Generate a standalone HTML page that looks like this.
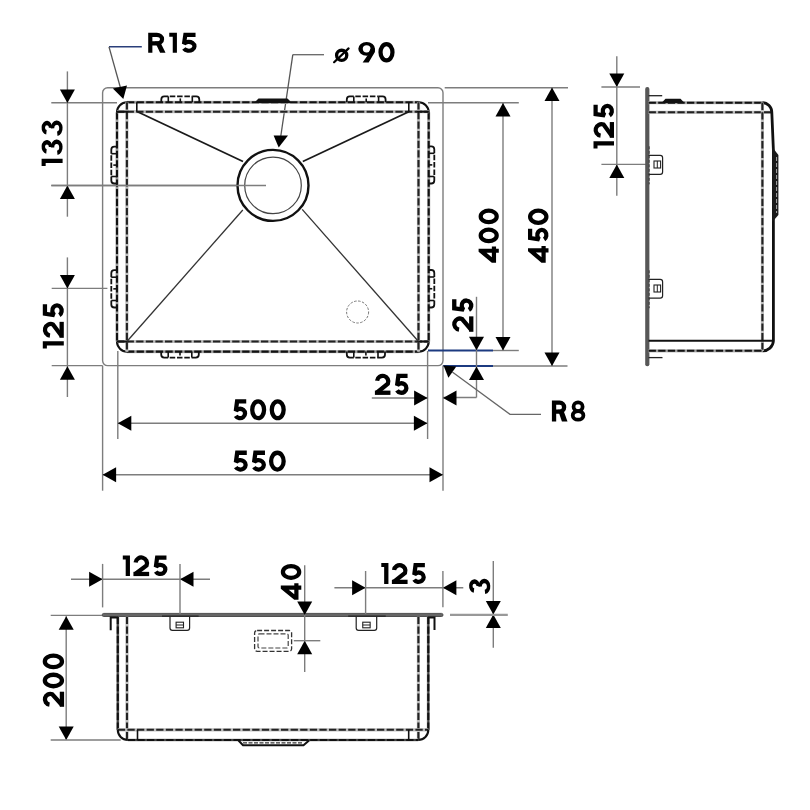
<!DOCTYPE html>
<html><head><meta charset="utf-8"><style>
html,body{margin:0;padding:0;background:#fff;width:810px;height:810px;overflow:hidden}
svg{display:block}
text{font-family:"Liberation Sans",sans-serif;font-weight:bold;fill:#000}
.t{opacity:0.999}
</style></head><body>
<svg width="810" height="810" viewBox="0 0 810 810">
<rect width="810" height="810" fill="#fff"/>
<rect x="102.6" y="87.7" width="340.4" height="277.9" rx="5" stroke="#7d7d7d" stroke-width="1.4" fill="none"/>
<line x1="51.3" y1="102.7" x2="117" y2="102.7" stroke="#7d7d7d" stroke-width="1.4" fill="none" />
<line x1="428" y1="102.7" x2="518.8" y2="102.7" stroke="#7d7d7d" stroke-width="1.4" fill="none" />
<line x1="51.3" y1="185.5" x2="266" y2="185.5" stroke="#7d7d7d" stroke-width="1.4" fill="none" />
<line x1="51.7" y1="288.4" x2="107.4" y2="288.4" stroke="#7d7d7d" stroke-width="1.4" fill="none" />
<line x1="51.7" y1="365.6" x2="102.6" y2="365.6" stroke="#7d7d7d" stroke-width="1.4" fill="none" />
<line x1="444.7" y1="87.7" x2="568" y2="87.7" stroke="#7d7d7d" stroke-width="1.4" fill="none" />
<line x1="493" y1="350.5" x2="518.8" y2="350.5" stroke="#7d7d7d" stroke-width="1.4" fill="none" />
<line x1="493" y1="366" x2="567.5" y2="366" stroke="#7d7d7d" stroke-width="1.4" fill="none" />
<line x1="428" y1="350.5" x2="493" y2="350.5" stroke="#1c3a80" stroke-width="2" />
<line x1="443" y1="366" x2="493" y2="366" stroke="#1c3a80" stroke-width="2" />
<line x1="117.8" y1="351" x2="117.8" y2="439" stroke="#7d7d7d" stroke-width="1.4" fill="none" />
<line x1="102.6" y1="365.6" x2="102.6" y2="490.7" stroke="#7d7d7d" stroke-width="1.4" fill="none" />
<line x1="427.6" y1="351" x2="427.6" y2="439" stroke="#7d7d7d" stroke-width="1.4" fill="none" />
<line x1="443" y1="365.6" x2="443" y2="490.7" stroke="#7d7d7d" stroke-width="1.4" fill="none" />
<line x1="67.4" y1="71.4" x2="67.4" y2="216.7" stroke="#7d7d7d" stroke-width="1.4" fill="none" />
<polygon points="67.4,103 59.900000000000006,89.5 74.9,89.5" fill="#000"/>
<polygon points="67.4,185.6 59.900000000000006,199.1 74.9,199.1" fill="#000"/>
<line x1="67.4" y1="257.4" x2="67.4" y2="397" stroke="#7d7d7d" stroke-width="1.4" fill="none" />
<polygon points="67.4,288.5 59.900000000000006,275.0 74.9,275.0" fill="#000"/>
<polygon points="67.4,366.3 59.900000000000006,379.8 74.9,379.8" fill="#000"/>
<line x1="117.8" y1="423.2" x2="427.4" y2="423.2" stroke="#7d7d7d" stroke-width="1.4" fill="none" />
<polygon points="117.8,423.2 131.3,415.7 131.3,430.7" fill="#000"/>
<polygon points="427.4,423.2 413.9,415.7 413.9,430.7" fill="#000"/>
<line x1="102.6" y1="474.7" x2="443" y2="474.7" stroke="#7d7d7d" stroke-width="1.4" fill="none" />
<polygon points="102.6,474.7 116.1,467.2 116.1,482.2" fill="#000"/>
<polygon points="443,474.7 429.5,467.2 429.5,482.2" fill="#000"/>
<line x1="503" y1="103" x2="503" y2="350.5" stroke="#7d7d7d" stroke-width="1.4" fill="none" />
<polygon points="503,103 495.5,116.5 510.5,116.5" fill="#000"/>
<polygon points="503,350.5 495.5,337.0 510.5,337.0" fill="#000"/>
<line x1="552" y1="87.5" x2="552" y2="366" stroke="#7d7d7d" stroke-width="1.4" fill="none" />
<polygon points="552,87.5 544.5,101.0 559.5,101.0" fill="#000"/>
<polygon points="552,366 544.5,352.5 559.5,352.5" fill="#000"/>
<line x1="476.5" y1="296.8" x2="476.5" y2="397.5" stroke="#7d7d7d" stroke-width="1.4" fill="none" />
<line x1="476.5" y1="397.5" x2="443" y2="397.5" stroke="#7d7d7d" stroke-width="1.4" fill="none" />
<polygon points="476.5,350.3 469.0,336.8 484.0,336.8" fill="#000"/>
<polygon points="476.5,366.5 469.0,380.0 484.0,380.0" fill="#000"/>
<line x1="371.8" y1="398" x2="428" y2="398" stroke="#7d7d7d" stroke-width="1.4" fill="none" />
<polygon points="427.6,398 414.1,390.5 414.1,405.5" fill="#000"/>
<polygon points="443,398 456.5,390.5 456.5,405.5" fill="#000"/>
<polygon points="443.5,365.4 456.3,366.4 448.4,377.8" fill="#000"/>
<polyline points="452.3,372 510,414.3 541,414.3" stroke="#666" stroke-width="1.3" fill="none"/>
<line x1="109" y1="46.8" x2="141.8" y2="46.8" stroke="#2a3f7a" stroke-width="1.5" />
<line x1="109" y1="46.8" x2="120.5" y2="88" stroke="#555" stroke-width="1.3" />
<polygon points="123.3,99 112.8,88.5 127,85.4" fill="#000"/>
<line x1="292.8" y1="54.7" x2="324" y2="54.7" stroke="#666" stroke-width="1.3" />
<line x1="292.8" y1="54.7" x2="280.8" y2="136" stroke="#555" stroke-width="1.3" />
<polygon points="278.7,147.4 273.6,135.4 288,135.4" fill="#000"/>
<line x1="127.0" y1="102.3" x2="418.7" y2="102.3" stroke="#c4c4c4" stroke-width="3.2"/>
<line x1="127.0" y1="102.3" x2="418.7" y2="102.3" stroke="#9a9a9a" stroke-width="2.1"/>
<line x1="127.0" y1="102.3" x2="418.7" y2="102.3" stroke="#111" stroke-width="2.1" stroke-dasharray="7.3 2.3" stroke-dashoffset="0"/>
<line x1="127.0" y1="351.6" x2="418.7" y2="351.6" stroke="#c4c4c4" stroke-width="3.2"/>
<line x1="127.0" y1="351.6" x2="418.7" y2="351.6" stroke="#9a9a9a" stroke-width="2.1"/>
<line x1="127.0" y1="351.6" x2="418.7" y2="351.6" stroke="#111" stroke-width="2.1" stroke-dasharray="7.3 2.3" stroke-dashoffset="0"/>
<line x1="117.0" y1="112.3" x2="117.0" y2="341.6" stroke="#c4c4c4" stroke-width="3.2"/>
<line x1="117.0" y1="112.3" x2="117.0" y2="341.6" stroke="#9a9a9a" stroke-width="2.1"/>
<line x1="117.0" y1="112.3" x2="117.0" y2="341.6" stroke="#111" stroke-width="2.1" stroke-dasharray="7.3 2.3" stroke-dashoffset="0"/>
<line x1="428.7" y1="112.3" x2="428.7" y2="341.6" stroke="#c4c4c4" stroke-width="3.2"/>
<line x1="428.7" y1="112.3" x2="428.7" y2="341.6" stroke="#9a9a9a" stroke-width="2.1"/>
<line x1="428.7" y1="112.3" x2="428.7" y2="341.6" stroke="#111" stroke-width="2.1" stroke-dasharray="7.3 2.3" stroke-dashoffset="0"/>
<path d="M117.0,112.3 A10,10 0 0 1 127.0,102.3 M418.7,102.3 A10,10 0 0 1 428.7,112.3 M428.7,341.6 A10,10 0 0 1 418.7,351.6 M127.0,351.6 A10,10 0 0 1 117.0,341.6" stroke="#111" stroke-width="2.1" fill="none"/>
<line x1="117.0" y1="111.7" x2="428.7" y2="111.7" stroke="#c4c4c4" stroke-width="3.2"/>
<line x1="117.0" y1="111.7" x2="428.7" y2="111.7" stroke="#bbb" stroke-width="2.1"/>
<line x1="117.0" y1="111.7" x2="428.7" y2="111.7" stroke="#222" stroke-width="2.1" stroke-dasharray="7.3 2.3" stroke-dashoffset="0"/>
<line x1="117.0" y1="341.5" x2="428.7" y2="341.5" stroke="#c4c4c4" stroke-width="3.2"/>
<line x1="117.0" y1="341.5" x2="428.7" y2="341.5" stroke="#bbb" stroke-width="2.1"/>
<line x1="117.0" y1="341.5" x2="428.7" y2="341.5" stroke="#222" stroke-width="2.1" stroke-dasharray="7.3 2.3" stroke-dashoffset="0"/>
<line x1="126.9" y1="102.3" x2="126.9" y2="351.6" stroke="#c4c4c4" stroke-width="3.2"/>
<line x1="126.9" y1="102.3" x2="126.9" y2="351.6" stroke="#bbb" stroke-width="2.1"/>
<line x1="126.9" y1="102.3" x2="126.9" y2="351.6" stroke="#222" stroke-width="2.1" stroke-dasharray="7.3 2.3" stroke-dashoffset="0"/>
<line x1="418.5" y1="102.3" x2="418.5" y2="351.6" stroke="#c4c4c4" stroke-width="3.2"/>
<line x1="418.5" y1="102.3" x2="418.5" y2="351.6" stroke="#bbb" stroke-width="2.1"/>
<line x1="418.5" y1="102.3" x2="418.5" y2="351.6" stroke="#222" stroke-width="2.1" stroke-dasharray="7.3 2.3" stroke-dashoffset="0"/>
<line x1="117.0" y1="111.7" x2="128.9" y2="111.7" stroke="#111" stroke-width="2" />
<line x1="416.5" y1="111.7" x2="428.7" y2="111.7" stroke="#111" stroke-width="2" />
<line x1="117.0" y1="341.5" x2="128.9" y2="341.5" stroke="#111" stroke-width="2" />
<line x1="416.5" y1="341.5" x2="428.7" y2="341.5" stroke="#111" stroke-width="2" />
<line x1="136.8" y1="102.3" x2="136.8" y2="111.7" stroke="#111" stroke-width="1.6" />
<line x1="408.8" y1="102.3" x2="408.8" y2="111.7" stroke="#111" stroke-width="1.6" />
<line x1="137.5" y1="111.7" x2="243" y2="161.5" stroke="#1a1a1a" stroke-width="1.8" />
<line x1="408.8" y1="111.7" x2="302.8" y2="161.5" stroke="#1a1a1a" stroke-width="1.8" />
<line x1="126.9" y1="341.5" x2="242.8" y2="210" stroke="#333" stroke-width="1.3" />
<line x1="418.5" y1="341.5" x2="302.2" y2="209.4" stroke="#333" stroke-width="1.3" />
<circle cx="273" cy="185.4" r="35.5" stroke="#111" stroke-width="2.4" fill="#fff"/>
<circle cx="273" cy="185.4" r="28.3" stroke="#444" stroke-width="1.2" fill="none"/>
<line x1="51.3" y1="185.5" x2="266" y2="185.5" stroke="#7d7d7d" stroke-width="1.4" fill="none" />
<circle cx="357.6" cy="312" r="11" stroke="#777" stroke-width="1" fill="none" stroke-dasharray="2.5 1.5"/>
<path d="M161.3,102.3 V99.4 Q161.3,96.4 164.3,96.4 H168.3" stroke="#111" stroke-width="1.8" fill="none"/>
<path d="M199.3,102.3 V99.4 Q199.3,96.4 196.3,96.4 H192.3" stroke="#111" stroke-width="1.8" fill="none"/>
<line x1="168.3" y1="96.4" x2="192.3" y2="96.4" stroke="#111" stroke-width="1.8" stroke-dasharray="5.5 1.8" stroke-dashoffset="-1.5" />
<line x1="168.3" y1="96.4" x2="168.3" y2="102.3" stroke="#111" stroke-width="1.6" />
<line x1="192.3" y1="96.4" x2="192.3" y2="102.3" stroke="#111" stroke-width="1.6" />
<line x1="180.3" y1="98.4" x2="180.3" y2="102.3" stroke="#111" stroke-width="1.6" />
<path d="M346.8,102.3 V99.4 Q346.8,96.4 349.8,96.4 H353.8" stroke="#111" stroke-width="1.8" fill="none"/>
<path d="M385.6,102.3 V99.4 Q385.6,96.4 382.6,96.4 H378.6" stroke="#111" stroke-width="1.8" fill="none"/>
<line x1="353.8" y1="96.4" x2="378.6" y2="96.4" stroke="#111" stroke-width="1.8" stroke-dasharray="5.5 1.8" stroke-dashoffset="-1.5" />
<line x1="353.8" y1="96.4" x2="353.8" y2="102.3" stroke="#111" stroke-width="1.6" />
<line x1="378.6" y1="96.4" x2="378.6" y2="102.3" stroke="#111" stroke-width="1.6" />
<line x1="366.20000000000005" y1="98.4" x2="366.20000000000005" y2="102.3" stroke="#111" stroke-width="1.6" />
<path d="M161.2,351.6 V354.6 Q161.2,357.6 164.2,357.6 H168.2" stroke="#111" stroke-width="1.8" fill="none"/>
<path d="M198.8,351.6 V354.6 Q198.8,357.6 195.8,357.6 H191.8" stroke="#111" stroke-width="1.8" fill="none"/>
<line x1="168.2" y1="357.6" x2="191.8" y2="357.6" stroke="#111" stroke-width="1.8" stroke-dasharray="5.5 1.8" stroke-dashoffset="-1.5" />
<line x1="168.2" y1="357.6" x2="168.2" y2="351.6" stroke="#111" stroke-width="1.6" />
<line x1="191.8" y1="357.6" x2="191.8" y2="351.6" stroke="#111" stroke-width="1.6" />
<line x1="180.0" y1="355.6" x2="180.0" y2="351.6" stroke="#111" stroke-width="1.6" />
<path d="M346.8,351.6 V354.6 Q346.8,357.6 349.8,357.6 H353.8" stroke="#111" stroke-width="1.8" fill="none"/>
<path d="M385,351.6 V354.6 Q385,357.6 382,357.6 H378" stroke="#111" stroke-width="1.8" fill="none"/>
<line x1="353.8" y1="357.6" x2="378" y2="357.6" stroke="#111" stroke-width="1.8" stroke-dasharray="5.5 1.8" stroke-dashoffset="-1.5" />
<line x1="353.8" y1="357.6" x2="353.8" y2="351.6" stroke="#111" stroke-width="1.6" />
<line x1="378" y1="357.6" x2="378" y2="351.6" stroke="#111" stroke-width="1.6" />
<line x1="365.9" y1="355.6" x2="365.9" y2="351.6" stroke="#111" stroke-width="1.6" />
<path d="M117.0,146.7 H114.3 Q111.3,146.7 111.3,149.7 V153.7" stroke="#111" stroke-width="1.8" fill="none"/>
<path d="M117.0,183.5 H114.3 Q111.3,183.5 111.3,180.5 V176.5" stroke="#111" stroke-width="1.8" fill="none"/>
<line x1="111.3" y1="153.7" x2="111.3" y2="176.5" stroke="#111" stroke-width="1.8" stroke-dasharray="5.5 1.8" stroke-dashoffset="-1.5" />
<line x1="111.3" y1="153.7" x2="117.0" y2="153.7" stroke="#111" stroke-width="1.6" />
<line x1="111.3" y1="176.5" x2="117.0" y2="176.5" stroke="#111" stroke-width="1.6" />
<line x1="113.3" y1="165.1" x2="117.0" y2="165.1" stroke="#111" stroke-width="1.6" />
<path d="M117.0,270.2 H114.3 Q111.3,270.2 111.3,273.2 V277.2" stroke="#111" stroke-width="1.8" fill="none"/>
<path d="M117.0,307.5 H114.3 Q111.3,307.5 111.3,304.5 V300.5" stroke="#111" stroke-width="1.8" fill="none"/>
<line x1="111.3" y1="277.2" x2="111.3" y2="300.5" stroke="#111" stroke-width="1.8" stroke-dasharray="5.5 1.8" stroke-dashoffset="-1.5" />
<line x1="111.3" y1="277.2" x2="117.0" y2="277.2" stroke="#111" stroke-width="1.6" />
<line x1="111.3" y1="300.5" x2="117.0" y2="300.5" stroke="#111" stroke-width="1.6" />
<line x1="113.3" y1="288.85" x2="117.0" y2="288.85" stroke="#111" stroke-width="1.6" />
<path d="M428.7,146.3 H431.3 Q434.3,146.3 434.3,149.3 V153.3" stroke="#111" stroke-width="1.8" fill="none"/>
<path d="M428.7,183.5 H431.3 Q434.3,183.5 434.3,180.5 V176.5" stroke="#111" stroke-width="1.8" fill="none"/>
<line x1="434.3" y1="153.3" x2="434.3" y2="176.5" stroke="#111" stroke-width="1.8" stroke-dasharray="5.5 1.8" stroke-dashoffset="-1.5" />
<line x1="434.3" y1="153.3" x2="428.7" y2="153.3" stroke="#111" stroke-width="1.6" />
<line x1="434.3" y1="176.5" x2="428.7" y2="176.5" stroke="#111" stroke-width="1.6" />
<line x1="432.3" y1="164.9" x2="428.7" y2="164.9" stroke="#111" stroke-width="1.6" />
<path d="M428.7,270 H431.3 Q434.3,270 434.3,273 V277" stroke="#111" stroke-width="1.8" fill="none"/>
<path d="M428.7,307.5 H431.3 Q434.3,307.5 434.3,304.5 V300.5" stroke="#111" stroke-width="1.8" fill="none"/>
<line x1="434.3" y1="277" x2="434.3" y2="300.5" stroke="#111" stroke-width="1.8" stroke-dasharray="5.5 1.8" stroke-dashoffset="-1.5" />
<line x1="434.3" y1="277" x2="428.7" y2="277" stroke="#111" stroke-width="1.6" />
<line x1="434.3" y1="300.5" x2="428.7" y2="300.5" stroke="#111" stroke-width="1.6" />
<line x1="432.3" y1="288.75" x2="428.7" y2="288.75" stroke="#111" stroke-width="1.6" />
<polygon points="254,103 258.5,98.6 287.5,98.6 292,103" fill="#111"/>
<line x1="616.8" y1="56.2" x2="616.8" y2="195.7" stroke="#7d7d7d" stroke-width="1.4" fill="none" />
<polygon points="616.8,87 609.3,73.5 624.3,73.5" fill="#000"/>
<polygon points="616.8,164.4 609.3,177.9 624.3,177.9" fill="#000"/>
<line x1="601.4" y1="87" x2="640" y2="87" stroke="#7d7d7d" stroke-width="1.4" fill="none" />
<line x1="601.4" y1="164.4" x2="646.8" y2="164.4" stroke="#7d7d7d" stroke-width="1.4" fill="none" />
<rect x="645.2" y="86.9" width="4.2" height="279.3" rx="2" fill="#575757"/>
<line x1="648.6" y1="102.7" x2="762.4" y2="102.7" stroke="#c4c4c4" stroke-width="3.2"/>
<line x1="648.6" y1="102.7" x2="762.4" y2="102.7" stroke="#9a9a9a" stroke-width="2.1"/>
<line x1="648.6" y1="102.7" x2="762.4" y2="102.7" stroke="#111" stroke-width="2.1" stroke-dasharray="7.3 2.3" stroke-dashoffset="0"/>
<line x1="648.6" y1="112.3" x2="772.2" y2="112.3" stroke="#c4c4c4" stroke-width="3.2"/>
<line x1="648.6" y1="112.3" x2="772.2" y2="112.3" stroke="#bbb" stroke-width="2.1"/>
<line x1="648.6" y1="112.3" x2="772.2" y2="112.3" stroke="#222" stroke-width="2.1" stroke-dasharray="7.3 2.3" stroke-dashoffset="0"/>
<path d="M762.4,102.7 A9.6,9.6 0 0 1 771.8,112.3 L773.4,150 L773.4,341 A10.5,10.5 0 0 1 762.4,350.8" stroke="#111" stroke-width="2.8" fill="none"/>
<polygon points="772.2,147 778.4,155 778.4,215 772.2,222" fill="#1a1a1a"/>
<line x1="776.6" y1="157" x2="776.6" y2="213" stroke="#bbb" stroke-width="0.9" stroke-dasharray="4 2" />
<line x1="762.4" y1="102.7" x2="762.4" y2="350.8" stroke="#c4c4c4" stroke-width="3.2"/>
<line x1="762.4" y1="102.7" x2="762.4" y2="350.8" stroke="#bbb" stroke-width="2.1"/>
<line x1="762.4" y1="102.7" x2="762.4" y2="350.8" stroke="#222" stroke-width="2.1" stroke-dasharray="7.3 2.3" stroke-dashoffset="0"/>
<line x1="648.6" y1="340.8" x2="773" y2="340.8" stroke="#111" stroke-width="2" />
<line x1="648.6" y1="350.8" x2="762.4" y2="350.8" stroke="#c4c4c4" stroke-width="3.2"/>
<line x1="648.6" y1="350.8" x2="762.4" y2="350.8" stroke="#9a9a9a" stroke-width="2.1"/>
<line x1="648.6" y1="350.8" x2="762.4" y2="350.8" stroke="#111" stroke-width="2.1" stroke-dasharray="7.3 2.3" stroke-dashoffset="0"/>
<polygon points="661.5,103 665.5,98.8 680.5,98.8 684.5,103" fill="#111"/>
<line x1="648.6" y1="95.7" x2="662.2" y2="95.7" stroke="#222" stroke-width="1.3" />
<line x1="648.6" y1="357.6" x2="662.5" y2="357.6" stroke="#222" stroke-width="1.3" />
<path d="M648.6,155.3 H660.2 A2.4,2.4 0 0 1 662.6,157.70000000000002 V171.9 A2.4,2.4 0 0 1 660.2,174.3 H648.6" stroke="#222" stroke-width="1.2" fill="none"/>
<rect x="654" y="161.0" width="6.6" height="7" stroke="#222" stroke-width="1.1" fill="none"/>
<line x1="657.3" y1="161.0" x2="657.3" y2="168.0" stroke="#222" stroke-width="1" />
<line x1="649.2" y1="146.3" x2="649.2" y2="184.3" stroke="#333" stroke-width="0.9" stroke-dasharray="3 1.5" />
<path d="M648.6,279.3 H660.2 A2.4,2.4 0 0 1 662.6,281.7 V295.8 A2.4,2.4 0 0 1 660.2,298.2 H648.6" stroke="#222" stroke-width="1.2" fill="none"/>
<rect x="654" y="285.0" width="6.6" height="7" stroke="#222" stroke-width="1.1" fill="none"/>
<line x1="657.3" y1="285.0" x2="657.3" y2="292.0" stroke="#222" stroke-width="1" />
<line x1="649.2" y1="270.3" x2="649.2" y2="308.2" stroke="#333" stroke-width="0.9" stroke-dasharray="3 1.5" />
<rect x="102.2" y="613.4" width="340.8" height="3.1" rx="1.5" fill="#666" stroke="#444" stroke-width="0.9"/>
<line x1="117.8" y1="616.8" x2="117.8" y2="729.8" stroke="#c4c4c4" stroke-width="3.2"/>
<line x1="117.8" y1="616.8" x2="117.8" y2="729.8" stroke="#444" stroke-width="2.1"/>
<line x1="117.8" y1="616.8" x2="117.8" y2="729.8" stroke="#111" stroke-width="2.1" stroke-dasharray="7.3 2.3" stroke-dashoffset="0"/>
<line x1="127.0" y1="616.8" x2="127.0" y2="740.0" stroke="#c4c4c4" stroke-width="3.2"/>
<line x1="127.0" y1="616.8" x2="127.0" y2="740.0" stroke="#bbb" stroke-width="2.1"/>
<line x1="127.0" y1="616.8" x2="127.0" y2="740.0" stroke="#222" stroke-width="2.1" stroke-dasharray="7.3 2.3" stroke-dashoffset="0"/>
<line x1="428.3" y1="616.8" x2="428.3" y2="729.8" stroke="#c4c4c4" stroke-width="3.2"/>
<line x1="428.3" y1="616.8" x2="428.3" y2="729.8" stroke="#444" stroke-width="2.1"/>
<line x1="428.3" y1="616.8" x2="428.3" y2="729.8" stroke="#111" stroke-width="2.1" stroke-dasharray="7.3 2.3" stroke-dashoffset="0"/>
<line x1="418.4" y1="616.8" x2="418.4" y2="740.0" stroke="#c4c4c4" stroke-width="3.2"/>
<line x1="418.4" y1="616.8" x2="418.4" y2="740.0" stroke="#bbb" stroke-width="2.1"/>
<line x1="418.4" y1="616.8" x2="418.4" y2="740.0" stroke="#222" stroke-width="2.1" stroke-dasharray="7.3 2.3" stroke-dashoffset="0"/>
<line x1="117.8" y1="729.8" x2="428.3" y2="729.8" stroke="#c4c4c4" stroke-width="3.2"/>
<line x1="117.8" y1="729.8" x2="428.3" y2="729.8" stroke="#bbb" stroke-width="2.1"/>
<line x1="117.8" y1="729.8" x2="428.3" y2="729.8" stroke="#222" stroke-width="2.1" stroke-dasharray="7.3 2.3" stroke-dashoffset="0"/>
<line x1="127.8" y1="740.0" x2="418.3" y2="740.0" stroke="#c4c4c4" stroke-width="3.2"/>
<line x1="127.8" y1="740.0" x2="418.3" y2="740.0" stroke="#444" stroke-width="2.1"/>
<line x1="127.8" y1="740.0" x2="418.3" y2="740.0" stroke="#111" stroke-width="2.1" stroke-dasharray="7.3 2.3" stroke-dashoffset="0"/>
<path d="M117.8,729.8 A10,10 0 0 0 127.8,740.0 M418.3,740.0 A10,10 0 0 0 428.3,729.8" stroke="#111" stroke-width="2.1" fill="none"/>
<line x1="137.5" y1="729.8" x2="137.5" y2="740.0" stroke="#111" stroke-width="1.6" />
<line x1="408.7" y1="729.8" x2="408.7" y2="740.0" stroke="#111" stroke-width="1.6" />
<path d="M238.5,740.5 L243,745.2 L303.5,745.2 L309,740.5" stroke="#111" stroke-width="2" fill="none"/>
<line x1="243" y1="742.8" x2="303.5" y2="742.8" stroke="#333" stroke-width="1.2" stroke-dasharray="4 1.5" />
<path d="M117.8,617.5 H110.7 V630.2" stroke="#111" stroke-width="2" fill="none"/>
<path d="M428.3,617.5 H434.5 V630" stroke="#111" stroke-width="2" fill="none"/>
<path d="M170,616.7 V628 A2.4,2.4 0 0 0 172.4,630.4 H187.2 A2.4,2.4 0 0 0 189.6,628 V616.7" stroke="#222" stroke-width="1.2" fill="none"/>
<rect x="176.10000000000002" y="622.2" width="7.4" height="5.6" stroke="#222" stroke-width="1.1" fill="none"/>
<line x1="176.10000000000002" y1="625" x2="183.5" y2="625" stroke="#222" stroke-width="1" />
<line x1="162" y1="616.2" x2="198.6" y2="616.2" stroke="#222" stroke-width="1.3" />
<path d="M356.2,616.7 V628 A2.4,2.4 0 0 0 358.59999999999997,630.4 H374.3 A2.4,2.4 0 0 0 376.7,628 V616.7" stroke="#222" stroke-width="1.2" fill="none"/>
<rect x="362.75" y="622.2" width="7.4" height="5.6" stroke="#222" stroke-width="1.1" fill="none"/>
<line x1="362.75" y1="625" x2="370.15" y2="625" stroke="#222" stroke-width="1" />
<line x1="348.2" y1="616.2" x2="385.7" y2="616.2" stroke="#222" stroke-width="1.3" />
<rect x="254.6" y="630.5" width="37" height="20.8" rx="2.5" stroke="#333" stroke-width="1.3" fill="none" stroke-dasharray="5 2"/>
<rect x="258" y="633.8" width="30.2" height="14.2" rx="1.5" stroke="#444" stroke-width="1.2" fill="none" stroke-dasharray="5 2"/>
<line x1="66.2" y1="616.2" x2="66.2" y2="739.9" stroke="#7d7d7d" stroke-width="1.4" fill="none" />
<polygon points="66.2,616.2 58.7,629.7 73.7,629.7" fill="#000"/>
<polygon points="66.2,739.9 58.7,726.4 73.7,726.4" fill="#000"/>
<line x1="50.7" y1="615.4" x2="102" y2="615.4" stroke="#7d7d7d" stroke-width="1.4" fill="none" />
<line x1="50.7" y1="740" x2="120.7" y2="740" stroke="#7d7d7d" stroke-width="1.4" fill="none" />
<line x1="71" y1="579.3" x2="210" y2="579.3" stroke="#7d7d7d" stroke-width="1.4" fill="none" />
<polygon points="102.6,579.3 89.1,571.8 89.1,586.8" fill="#000"/>
<polygon points="180,579.3 193.5,571.8 193.5,586.8" fill="#000"/>
<line x1="102.6" y1="563.9" x2="102.6" y2="607.4" stroke="#7d7d7d" stroke-width="1.4" fill="none" />
<line x1="180" y1="564" x2="180" y2="614" stroke="#7d7d7d" stroke-width="1.4" fill="none" />
<line x1="334.4" y1="587.8" x2="463.3" y2="587.8" stroke="#7d7d7d" stroke-width="1.4" fill="none" />
<polygon points="365.6,587.8 352.1,580.3 352.1,595.3" fill="#000"/>
<polygon points="442.9,587.8 456.4,580.3 456.4,595.3" fill="#000"/>
<line x1="365.6" y1="571" x2="365.6" y2="614" stroke="#7d7d7d" stroke-width="1.4" fill="none" />
<line x1="442.9" y1="571" x2="442.9" y2="607.3" stroke="#7d7d7d" stroke-width="1.4" fill="none" />
<line x1="304.7" y1="565.2" x2="304.7" y2="672" stroke="#7d7d7d" stroke-width="1.4" fill="none" />
<polygon points="304.7,615 297.2,601.5 312.2,601.5" fill="#000"/>
<polygon points="304.7,640.7 297.2,654.2 312.2,654.2" fill="#000"/>
<line x1="293.8" y1="640.7" x2="320.3" y2="640.7" stroke="#7d7d7d" stroke-width="1.4" fill="none" />
<line x1="493.3" y1="561" x2="493.3" y2="647.8" stroke="#7d7d7d" stroke-width="1.4" fill="none" />
<polygon points="493.3,614.6 485.8,601.1 500.8,601.1" fill="#000"/>
<polygon points="493.3,614.6 485.8,628.1 500.8,628.1" fill="#000"/>
<line x1="450" y1="614.9" x2="507.8" y2="614.9" stroke="#999" stroke-width="2.2" />
<g stroke-miterlimit="2">
<g transform="translate(148.20,32.80)"><path transform="translate(0.00,0)" d="M2.09,20.00 L2.09,2.09 L8.66,2.09 A5.19,4.24 0 0 1 8.66,10.57 L2.09,10.57" fill="none" stroke="#000" stroke-width="4.18"/><path transform="translate(0.00,0)" d="M6.58,8.69 L11.80,8.69 L17.32,20.00 L11.89,20.00 Z" fill="#000"/><path transform="translate(21.05,0)" d="M0,0 H7.67 V20.00 H3.50 V3.97 H0 Z" fill="#000"/><path transform="translate(32.45,0)" d="M14.89,2.09 L4.69,2.09 L3.31,11.16 A5.69,4.41 0 1 1 3.21,15.71" fill="none" stroke="#000" stroke-width="4.18"/></g>
<g transform="translate(333.20,47.50)"><path transform="translate(0.00,0)" d="M8.48,2.76 A5.08,5.04 0 1 1 8.48,12.84 A5.08,5.04 0 1 1 8.48,2.76 Z" fill="none" stroke="#000" stroke-width="3.31"/><path transform="translate(0.00,0)" d="M0.90,14.70 L15.40,0.90" fill="none" stroke="#000" stroke-width="2.2" stroke-linecap="round"/></g>
<g transform="translate(358.30,41.90)"><path transform="translate(0.00,0)" d="M8.35,0.00 A8.35,6.93 0 1 1 8.35,13.87 A8.35,6.93 0 1 1 8.35,0.00 Z M8.35,3.31 A3.88,3.62 0 1 0 8.35,10.55 A3.88,3.62 0 1 0 8.35,3.31 Z" fill="#000" fill-rule="evenodd"/><path transform="translate(0.00,0)" d="M16.69,6.93 L16.61,10.06 L10.35,20.70 L4.34,20.70 L9.18,13.57 L12.23,6.93 Z" fill="#000"/><path transform="translate(20.11,0)" d="M8.09,2.12 A5.97,8.23 0 1 1 8.09,18.58 A5.97,8.23 0 1 1 8.09,2.12 Z" fill="none" stroke="#000" stroke-width="4.25"/></g>
<g transform="matrix(0,-1,1,0,41.60,165.90)"><path transform="translate(0.00,0)" d="M0,0 H7.27 V21.00 H2.99 V4.07 H0 Z" fill="#000"/><path transform="translate(10.80,0)" d="M1.47,4.61 A6.86,5.36 0 1 1 8.02,10.71 L8.18,7.28 A2.36,1.93 0 1 0 5.92,5.09 Z" fill="#000"/><path transform="translate(10.80,0)" d="M7.52,9.24 A7.79,5.88 0 1 1 0.08,15.94 L4.53,15.46 A3.30,2.46 0 1 0 7.68,12.67 Z" fill="#000"/><path transform="translate(29.92,0)" d="M1.47,4.61 A6.86,5.36 0 1 1 8.02,10.71 L8.18,7.28 A2.36,1.93 0 1 0 5.92,5.09 Z" fill="#000"/><path transform="translate(29.92,0)" d="M7.52,9.24 A7.79,5.88 0 1 1 0.08,15.94 L4.53,15.46 A3.30,2.46 0 1 0 7.68,12.67 Z" fill="#000"/></g>
<g transform="matrix(0,-1,1,0,42.80,348.60)"><path transform="translate(0.00,0)" d="M0,0 H7.26 V21.00 H2.98 V4.07 H0 Z" fill="#000"/><path transform="translate(10.79,0)" d="M2.20,7.17 A5.84,5.84 0 1 1 13.40,10.17 L1.82,18.86" fill="none" stroke="#000" stroke-width="4.28"/><path transform="translate(10.79,0)" d="M0,16.72 H15.97 V21.00 H0 Z" fill="#000"/><path transform="translate(30.28,0)" d="M14.08,2.14 L4.57,2.14 L3.26,11.69 A5.23,4.68 0 1 1 3.17,16.52" fill="none" stroke="#000" stroke-width="4.28"/></g>
<g transform="matrix(0,-1,1,0,478.60,262.70)"><path transform="translate(0.00,0)" d="M14.05,0 V13.25 H16.15 V17.45 H14.05 V20.20 H9.85 V17.45 H0 V13.25 L10.90,0 Z M9.85,13.25 V7.88 L5.44,13.25 Z" fill="#000" fill-rule="evenodd"/><path transform="translate(19.46,0)" d="M7.83,2.10 A5.73,8.00 0 1 1 7.83,18.10 A5.73,8.00 0 1 1 7.83,2.10 Z" fill="none" stroke="#000" stroke-width="4.20"/><path transform="translate(38.43,0)" d="M7.83,2.10 A5.73,8.00 0 1 1 7.83,18.10 A5.73,8.00 0 1 1 7.83,2.10 Z" fill="none" stroke="#000" stroke-width="4.20"/></g>
<g transform="matrix(0,-1,1,0,528.00,262.70)"><path transform="translate(0.00,0)" d="M14.54,0 V13.47 H16.79 V17.69 H14.54 V20.50 H10.31 V17.69 H0 V13.47 L11.36,0 Z M10.31,13.47 V7.81 L5.53,13.47 Z" fill="#000" fill-rule="evenodd"/><path transform="translate(20.22,0)" d="M13.73,2.11 L4.48,2.11 L3.20,11.43 A5.07,4.55 0 1 1 3.11,16.11" fill="none" stroke="#000" stroke-width="4.23"/><path transform="translate(37.82,0)" d="M8.14,2.11 A6.03,8.14 0 1 1 8.14,18.39 A6.03,8.14 0 1 1 8.14,2.11 Z" fill="none" stroke="#000" stroke-width="4.23"/></g>
<g transform="matrix(0,-1,1,0,452.10,331.80)"><path transform="translate(0.00,0)" d="M2.21,6.95 A5.57,5.57 0 1 1 12.89,9.81 L1.83,19.14" fill="none" stroke="#000" stroke-width="4.31"/><path transform="translate(0.00,0)" d="M0,16.99 H15.45 V21.30 H0 Z" fill="#000"/><path transform="translate(18.86,0)" d="M13.62,2.16 L4.49,2.16 L3.22,11.85 A4.97,4.77 0 1 1 3.14,16.76" fill="none" stroke="#000" stroke-width="4.31"/></g>
<g transform="translate(374.90,373.70)"><path transform="translate(0.00,0)" d="M2.21,6.99 A5.62,5.62 0 1 1 12.98,9.88 L1.83,19.05" fill="none" stroke="#000" stroke-width="4.30"/><path transform="translate(0.00,0)" d="M0,16.90 H15.54 V21.20 H0 Z" fill="#000"/><path transform="translate(18.97,0)" d="M13.70,2.15 L4.50,2.15 L3.23,11.80 A5.02,4.74 0 1 1 3.14,16.68" fill="none" stroke="#000" stroke-width="4.30"/></g>
<g transform="translate(232.60,399.20)"><path transform="translate(0.00,0)" d="M13.63,2.15 L4.48,2.15 L3.22,11.75 A4.99,4.71 0 1 1 3.13,16.60" fill="none" stroke="#000" stroke-width="4.29"/><path transform="translate(17.47,0)" d="M8.08,2.15 A5.93,8.40 0 1 1 8.08,18.95 A5.93,8.40 0 1 1 8.08,2.15 Z" fill="none" stroke="#000" stroke-width="4.29"/><path transform="translate(37.04,0)" d="M8.08,2.15 A5.93,8.40 0 1 1 8.08,18.95 A5.93,8.40 0 1 1 8.08,2.15 Z" fill="none" stroke="#000" stroke-width="4.29"/></g>
<g transform="translate(232.60,450.60)"><path transform="translate(0.00,0)" d="M14.19,2.15 L4.60,2.15 L3.28,11.75 A5.28,4.71 0 1 1 3.18,16.60" fill="none" stroke="#000" stroke-width="4.29"/><path transform="translate(18.19,0)" d="M14.19,2.15 L4.60,2.15 L3.28,11.75 A5.28,4.71 0 1 1 3.18,16.60" fill="none" stroke="#000" stroke-width="4.29"/><path transform="translate(36.37,0)" d="M8.41,2.15 A6.27,8.40 0 1 1 8.41,18.95 A6.27,8.40 0 1 1 8.41,2.15 Z" fill="none" stroke="#000" stroke-width="4.29"/></g>
<g transform="translate(551.90,400.50)"><path transform="translate(0.00,0)" d="M2.15,21.10 L2.15,2.15 L7.81,2.15 A4.41,4.51 0 0 1 7.81,11.17 L2.15,11.17" fill="none" stroke="#000" stroke-width="4.29"/><path transform="translate(0.00,0)" d="M5.93,9.24 L11.30,9.24 L15.61,21.10 L10.03,21.10 Z" fill="#000"/><path transform="translate(18.97,0)" d="M7.21,1.89 A4.53,4.33 0 1 1 7.21,10.55 A4.53,4.33 0 1 1 7.21,1.89 Z" fill="none" stroke="#000" stroke-width="3.78"/><path transform="translate(18.97,0)" d="M7.21,10.55 A5.33,4.33 0 1 1 7.21,19.21 A5.33,4.33 0 1 1 7.21,10.55 Z" fill="none" stroke="#000" stroke-width="3.78"/></g>
<g transform="matrix(0,-1,1,0,593.50,148.50)"><path transform="translate(0.00,0)" d="M0,0 H7.18 V20.50 H2.95 V4.02 H0 Z" fill="#000"/><path transform="translate(10.66,0)" d="M2.17,7.09 A5.78,5.78 0 1 1 13.26,10.06 L1.80,18.39" fill="none" stroke="#000" stroke-width="4.23"/><path transform="translate(10.66,0)" d="M0,16.27 H15.79 V20.50 H0 Z" fill="#000"/><path transform="translate(29.94,0)" d="M13.93,2.11 L4.52,2.11 L3.23,11.43 A5.17,4.55 0 1 1 3.13,16.11" fill="none" stroke="#000" stroke-width="4.23"/></g>
<g transform="translate(122.80,555.40)"><path transform="translate(0.00,0)" d="M0,0 H7.15 V20.70 H2.90 V4.04 H0 Z" fill="#000"/><path transform="translate(10.62,0)" d="M2.18,7.06 A5.74,5.74 0 1 1 13.18,10.01 L1.81,18.58" fill="none" stroke="#000" stroke-width="4.25"/><path transform="translate(10.62,0)" d="M0,16.45 H15.72 V20.70 H0 Z" fill="#000"/><path transform="translate(29.81,0)" d="M13.86,2.13 L4.51,2.13 L3.23,11.53 A5.13,4.60 0 1 1 3.13,16.27" fill="none" stroke="#000" stroke-width="4.25"/></g>
<g transform="translate(381.30,563.00)"><path transform="translate(0.00,0)" d="M0,0 H7.13 V21.00 H2.85 V4.07 H0 Z" fill="#000"/><path transform="translate(10.59,0)" d="M2.20,7.05 A5.70,5.70 0 1 1 13.13,9.98 L1.82,18.86" fill="none" stroke="#000" stroke-width="4.28"/><path transform="translate(10.59,0)" d="M0,16.72 H15.69 V21.00 H0 Z" fill="#000"/><path transform="translate(29.74,0)" d="M13.83,2.14 L4.52,2.14 L3.24,11.69 A5.10,4.68 0 1 1 3.14,16.52" fill="none" stroke="#000" stroke-width="4.28"/></g>
<g transform="matrix(0,-1,1,0,280.80,599.80)"><path transform="translate(0.00,0)" d="M14.30,0 V13.47 H16.46 V17.69 H14.30 V20.50 H10.07 V17.69 H0 V13.47 L11.12,0 Z M10.07,13.47 V7.92 L5.49,13.47 Z" fill="#000" fill-rule="evenodd"/><path transform="translate(19.83,0)" d="M7.98,2.11 A5.87,8.14 0 1 1 7.98,18.39 A5.87,8.14 0 1 1 7.98,2.11 Z" fill="none" stroke="#000" stroke-width="4.23"/></g>
<g transform="matrix(0,-1,1,0,469.10,594.20)"><path transform="translate(0.00,0)" d="M1.46,4.65 A6.82,5.41 0 1 1 7.98,10.81 L8.13,7.37 A2.30,1.97 0 1 0 5.93,5.13 Z" fill="#000"/><path transform="translate(0.00,0)" d="M7.48,9.33 A7.75,5.94 0 1 1 0.08,16.09 L4.55,15.61 A3.23,2.50 0 1 0 7.64,12.77 Z" fill="#000"/></g>
<g transform="matrix(0,-1,1,0,42.70,706.80)"><path transform="translate(0.00,0)" d="M2.21,6.80 A5.38,5.38 0 1 1 12.54,9.56 L1.84,19.24" fill="none" stroke="#000" stroke-width="4.32"/><path transform="translate(0.00,0)" d="M0,17.08 H15.09 V21.40 H0 Z" fill="#000"/><path transform="translate(18.42,0)" d="M7.89,2.16 A5.73,8.54 0 1 1 7.89,19.24 A5.73,8.54 0 1 1 7.89,2.16 Z" fill="none" stroke="#000" stroke-width="4.32"/><path transform="translate(37.53,0)" d="M7.89,2.16 A5.73,8.54 0 1 1 7.89,19.24 A5.73,8.54 0 1 1 7.89,2.16 Z" fill="none" stroke="#000" stroke-width="4.32"/></g>
</g>
</svg></body></html>
